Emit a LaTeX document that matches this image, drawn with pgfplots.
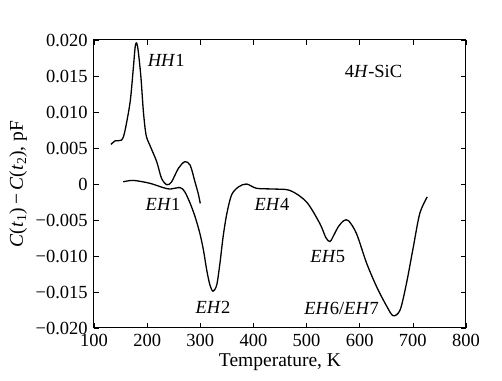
\documentclass[border=0pt]{standalone}
\usepackage{fontspec}
\setmainfont{Liberation Serif}
\usepackage{pgfplots}
\pgfplotsset{compat=1.18}
\begin{document}
\fontsize{18.5}{22}\selectfont
\begin{tikzpicture}
\begin{axis}[
  scale only axis, width=372pt, height=288pt,
  xmin=100, xmax=800, ymin=-0.020, ymax=0.020,
  xtick={100,200,...,800},
  xticklabels={100,200,300,400,500,600,700,800},
  ytick={-0.020,-0.015,-0.010,-0.005,0,0.005,0.010,0.015,0.020},
  yticklabels={−0.020,−0.015,−0.010,−0.005,0,0.005,0.010,0.015,0.020},
  tick align=inside, tick style={black, line width=0.6pt}, major tick length=5pt,
  minor tick num=0,
  axis line style={line width=1pt},
  tick label style={font=\fontsize{18.5}{22}\selectfont},
  label style={font=\fontsize{19.5}{23}\selectfont},
  xlabel={Temperature, K},
  ylabel={\textit{C}(\textit{t}\textsubscript{1})\,−\,\textit{C}(\textit{t}\textsubscript{2}), pF},
  xlabel style={yshift=6pt},
  ylabel style={yshift=-4pt},
  scaled y ticks=false,
  clip=false,
]
\addplot[black, line width=1.3pt, smooth, tension=0.5] coordinates {
(132,0.0055)(140,0.0060)(152,0.0061)(158,0.0073)(168,0.0114)(174,0.0161)(178,0.0193)(182,0.0191)(188,0.0151)(193,0.0100)(198,0.0068)(205,0.0054)(218,0.0031)(227,0.0008)(237,-0.0001)(246,0.0003)(259,0.0022)(271,0.0031)(281,0.0026)(290,0.0003)(296,-0.0013)(300,-0.0027)
};
\addplot[black, line width=1.3pt, smooth, tension=0.5] coordinates {
(155,0.0003)(174,0.0005)(205,0.0001)(230,-0.0005)(243,-0.0007)(262,-0.0005)(271,-0.0011)(281,-0.0027)(290,-0.0045)(299,-0.0068)(306,-0.0092)(312,-0.0119)(318,-0.0140)(324,-0.0149)(331,-0.0140)(337,-0.0110)(343,-0.0073)(350,-0.0041)(359,-0.0015)(372,-0.0004)(387,0.0000)(406,-0.0006)(437,-0.0007)(469,-0.0009)(500,-0.0025)(525,-0.0055)(536,-0.0074)(544,-0.0080)(552,-0.0070)(560,-0.0059)(570,-0.0051)(579,-0.0051)(594,-0.0069)(613,-0.0110)(632,-0.0143)(651,-0.0170)(663,-0.0183)(676,-0.0175)(688,-0.0138)(701,-0.0087)(713,-0.0041)(727,-0.0018)
};
\node at (axis cs:236,0.0172) {\textit{HH}1};
\node at (axis cs:626,0.0156) {4\textit{H}-SiC};
\node at (axis cs:230,-0.0029) {\textit{EH}1};
\node at (axis cs:324,-0.0172) {\textit{EH}2};
\node at (axis cs:435,-0.0029) {\textit{EH}4};
\node at (axis cs:540,-0.0101) {\textit{EH}5};
\node at (axis cs:566,-0.0173) {\textit{EH}6/\textit{EH}7};
\end{axis}
\pgfresetboundingbox
\path ([xshift=-94pt,yshift=-53pt]current axis.south west) rectangle ([xshift=36pt,yshift=40pt]current axis.north east);
\end{tikzpicture}
\end{document}
